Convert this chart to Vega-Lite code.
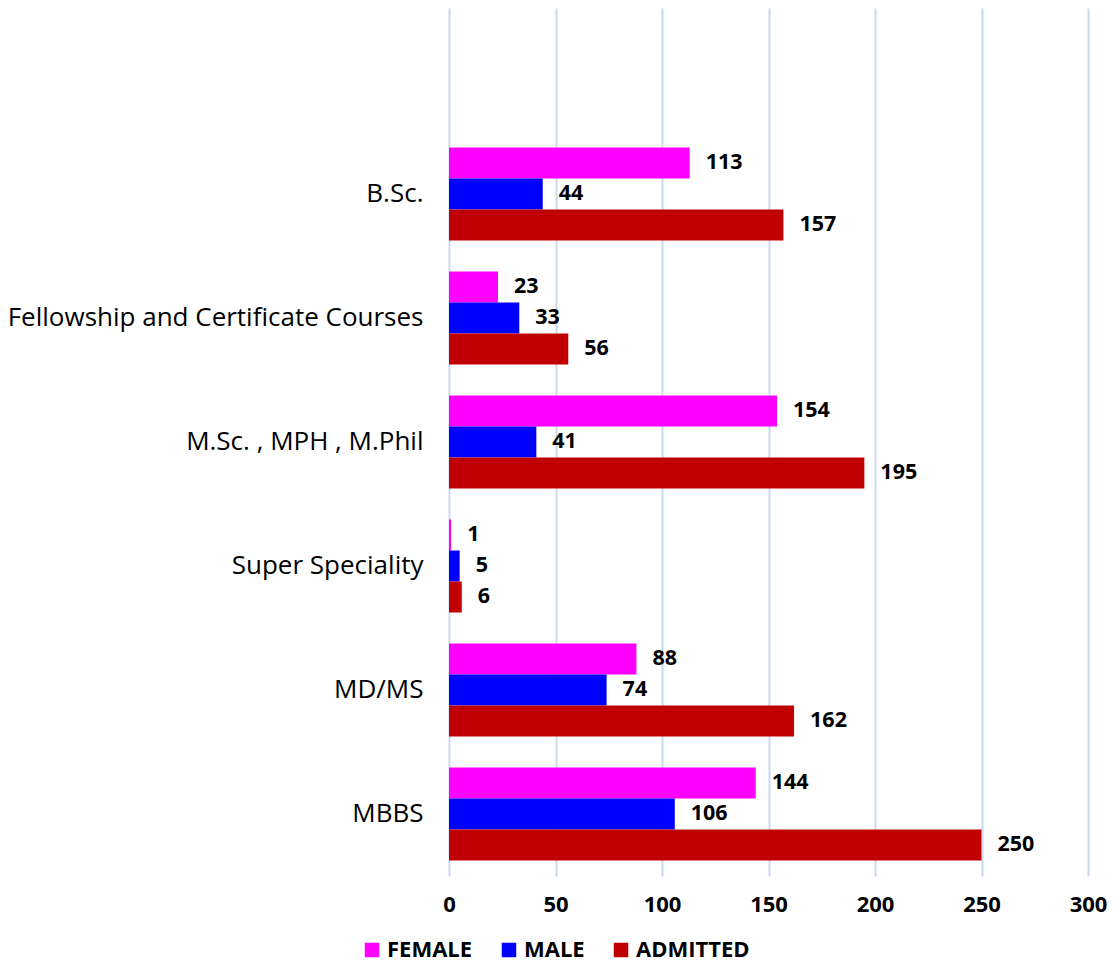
{
  "$schema": "https://vega.github.io/schema/vega-lite/v6.json",
  "width": 639,
  "height": 868,
  "autosize": "none",
  "padding": {"left": 449, "top": 8, "right": 28, "bottom": 91},
  "background": "white",
  "config": {
    "view": {"stroke": null},
    "font": "Open Sans"
  },
  "data": {
    "values": [
      {"course": "B.Sc.", "group": "FEMALE", "count": 113},
      {"course": "B.Sc.", "group": "MALE", "count": 44},
      {"course": "B.Sc.", "group": "ADMITTED", "count": 157},
      {"course": "Fellowship and Certificate Courses", "group": "FEMALE", "count": 23},
      {"course": "Fellowship and Certificate Courses", "group": "MALE", "count": 33},
      {"course": "Fellowship and Certificate Courses", "group": "ADMITTED", "count": 56},
      {"course": "M.Sc. , MPH , M.Phil", "group": "FEMALE", "count": 154},
      {"course": "M.Sc. , MPH , M.Phil", "group": "MALE", "count": 41},
      {"course": "M.Sc. , MPH , M.Phil", "group": "ADMITTED", "count": 195},
      {"course": "Super Speciality\u00a0", "group": "FEMALE", "count": 1},
      {"course": "Super Speciality\u00a0", "group": "MALE", "count": 5},
      {"course": "Super Speciality\u00a0", "group": "ADMITTED", "count": 6},
      {"course": "MD/MS", "group": "FEMALE", "count": 88},
      {"course": "MD/MS", "group": "MALE", "count": 74},
      {"course": "MD/MS", "group": "ADMITTED", "count": 162},
      {"course": "MBBS", "group": "FEMALE", "count": 144},
      {"course": "MBBS", "group": "MALE", "count": 106},
      {"course": "MBBS", "group": "ADMITTED", "count": 250}
    ]
  },
  "encoding": {
    "y": {
      "field": "course",
      "type": "nominal",
      "title": null,
      "scale": {
        "domain": [" ", "B.Sc.", "Fellowship and Certificate Courses", "M.Sc. , MPH , M.Phil", "Super Speciality\u00a0", "MD/MS", "MBBS"],
        "paddingInner": 0.25,
        "paddingOuter": 0.125
      },
      "axis": {
        "domain": false,
        "ticks": false,
        "grid": false,
        "labelFontSize": 26,
        "labelColor": "#000000",
        "labelPadding": 26,
        "labelLimit": 500
      }
    },
    "yOffset": {
      "field": "group",
      "type": "nominal",
      "sort": ["FEMALE", "MALE", "ADMITTED"]
    },
    "x": {
      "field": "count",
      "type": "quantitative",
      "title": null,
      "scale": {"domain": [0, 300]},
      "axis": {
        "values": [0, 50, 100, 150, 200, 250, 300],
        "domain": false,
        "ticks": false,
        "grid": true,
        "gridColor": "#C7D9F1",
        "gridWidth": 2,
        "labelFontSize": 22,
        "labelFontWeight": "bold",
        "labelColor": "#000000",
        "labelPadding": 18,
        "labelFlush": false
      }
    }
  },
  "layer": [
    {
      "mark": {"type": "bar"},
      "encoding": {
        "color": {
          "field": "group",
          "type": "nominal",
          "title": null,
          "sort": ["FEMALE", "MALE", "ADMITTED"],
          "scale": {
            "domain": ["FEMALE", "MALE", "ADMITTED"],
            "range": ["#FF00FF", "#0000FF", "#C00000"]
          },
          "legend": {
            "orient": "none",
            "direction": "horizontal",
            "legendX": -88,
            "legendY": 931,
            "symbolType": "square",
            "symbolSize": 210,
            "symbolStrokeWidth": 0,
            "labelFontSize": 22,
            "labelFontWeight": "bold",
            "labelColor": "#000000",
            "labelOffset": 4,
            "columnPadding": 25
          }
        }
      }
    },
    {
      "mark": {
        "type": "text",
        "align": "left",
        "baseline": "middle",
        "dx": 16,
        "fontSize": 21.5,
        "fontWeight": "bold",
        "color": "#000000"
      },
      "encoding": {
        "text": {"field": "count", "type": "quantitative"}
      }
    }
  ]
}
